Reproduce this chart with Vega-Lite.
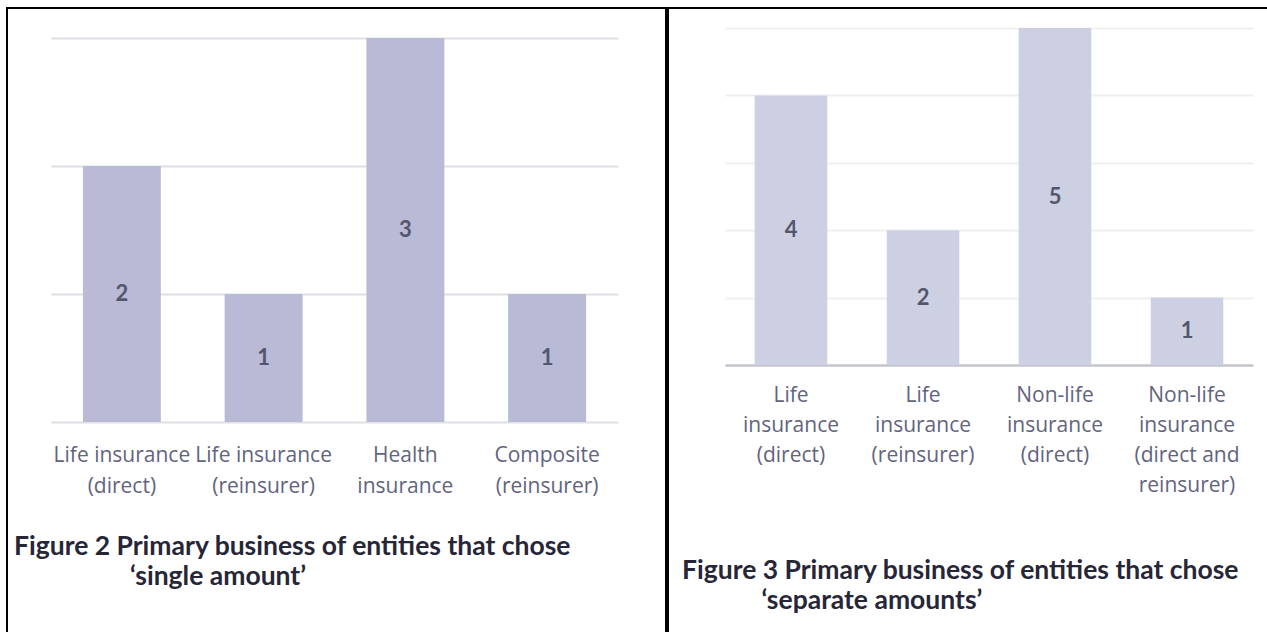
{
  "$schema": "https://vega.github.io/schema/vega-lite/v6.json",
  "padding": {"left": 6, "top": 7, "right": 0, "bottom": 0},
  "background": "white",
  "spacing": 0,
  "config": {
    "axis": {"labelFont": "Open Sans", "labelFontSize": 21, "labelColor": "#62647e", "labelLineHeight": 31},
    "title": {"font": "Lato", "fontSize": 26.5, "fontWeight": "bold", "color": "#262636", "lineHeight": 30}
  },
  "hconcat": [
    {
      "width": 659,
      "height": 624,
      "view": {"stroke": "#000000", "strokeWidth": 2, "strokeDash": [1283, 659, 624, 1]},
      "title": {
        "text": ["Figure 2 Primary business of entities that chose", "\u200b\u2003\u2003\u2003\u2003\u2003\u2002\u2009‘single amount’"],
        "orient": "bottom", "anchor": "start", "frame": "group", "offset": -98, "dx": 7
      },
      "data": {"values": [
        {"category": "Life insurance\n(direct)", "count": 2},
        {"category": "Life insurance\n(reinsurer)", "count": 1},
        {"category": "Health\ninsurance", "count": 3},
        {"category": "Composite\n(reinsurer)", "count": 1}
      ]},
      "transform": [{"calculate": "datum.count / 2", "as": "mid"}],
      "encoding": {
        "x": {"field": "category", "type": "nominal", "sort": null,
          "scale": {"range": [44, 611], "paddingInner": 0.45, "paddingOuter": 0.225},
          "axis": {"title": null, "labelAngle": 0, "domain": false, "ticks": false, "grid": false,
                   "offset": -210, "labelPadding": 22, "labelExpr": "split(datum.label, '\\n')"}}
      },
      "layer": [
        {
          "mark": {"type": "bar", "color": "#b8bad6"},
          "encoding": {
            "y": {"field": "count", "type": "quantitative",
              "scale": {"domain": [0, 3], "range": [414, 30], "nice": false},
              "axis": {"title": null, "labels": false, "ticks": false, "domain": false,
                       "values": [0, 1, 2, 3], "grid": true, "gridColor": "#dfdfe6", "gridWidth": 2}}
          }
        },
        {
          "mark": {"type": "text", "font": "Lato", "fontSize": 22, "fontWeight": "bold", "color": "#54566b", "baseline": "middle"},
          "encoding": {
            "y": {"field": "mid", "type": "quantitative"},
            "text": {"field": "count", "type": "quantitative"}
          }
        }
      ]
    },
    {
      "width": 600,
      "height": 624,
      "view": {"stroke": "#000000", "strokeWidth": 2, "strokeDash": [600, 1224, 624, 1]},
      "title": {
        "text": ["Figure 3 Primary business of entities that chose", "\u200b\u2003\u2003\u2003\u2002\u2009\u2009‘separate amounts’"],
        "orient": "bottom", "anchor": "start", "frame": "group", "offset": -74, "dx": 14
      },
      "data": {"values": [
        {"category": "Life\ninsurance\n(direct)", "count": 4},
        {"category": "Life\ninsurance\n(reinsurer)", "count": 2},
        {"category": "Non-life\ninsurance\n(direct)", "count": 5},
        {"category": "Non-life\ninsurance\n(direct and\nreinsurer)", "count": 1}
      ]},
      "transform": [{"calculate": "datum.count / 2", "as": "mid"}],
      "encoding": {
        "x": {"field": "category", "type": "nominal", "sort": null,
          "scale": {"range": [57, 585], "paddingInner": 0.45, "paddingOuter": 0.225},
          "axis": {"title": null, "labelAngle": 0, "domain": true, "domainColor": "#c4c4ce", "domainWidth": 2.5,
                   "ticks": false, "grid": false, "labelLineHeight": 30,
                   "offset": -267, "labelPadding": 19, "labelExpr": "split(datum.label, '\\n')"}}
      },
      "layer": [
        {
          "mark": {"type": "bar", "color": "#cdd0e3"},
          "encoding": {
            "y": {"field": "count", "type": "quantitative",
              "scale": {"domain": [0, 5], "range": [357, 20], "nice": false},
              "axis": {"title": null, "labels": false, "ticks": false, "domain": false,
                       "values": [1, 2, 3, 4, 5], "grid": true, "gridColor": "#efeff1", "gridWidth": 2}}
          }
        },
        {
          "mark": {"type": "text", "font": "Lato", "fontSize": 22, "fontWeight": "bold", "color": "#54566b", "baseline": "middle"},
          "encoding": {
            "y": {"field": "mid", "type": "quantitative"},
            "text": {"field": "count", "type": "quantitative"}
          }
        }
      ]
    }
  ]
}
